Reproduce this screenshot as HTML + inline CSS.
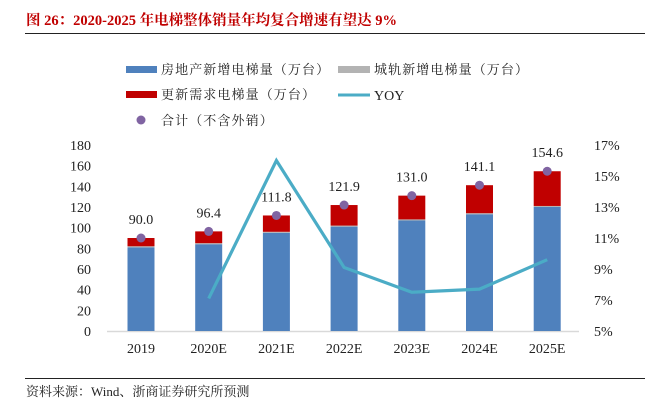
<!DOCTYPE html>
<html><head><meta charset="utf-8"><style>
body{margin:0;background:#fff;}
svg text{font-family:"Liberation Serif","Noto Serif CJK SC",serif;}
</style></head><body>
<svg width="658" height="402" xmlns="http://www.w3.org/2000/svg">
<text x="26" y="25" font-size="14.5" font-weight="bold" fill="#c00000">图 26：2020-2025 年电梯整体销量年均复合增速有望达 9%</text>
<line x1="25" y1="33.5" x2="645" y2="33.5" stroke="#222" stroke-width="1"/>
<g font-size="13" fill="#222" letter-spacing="1.1">
<rect x="126" y="66" width="31" height="7" fill="#4f81bd"/>
<text x="161" y="74">房地产新增电梯量（万台）</text>
<rect x="338" y="66" width="32" height="7" fill="#b3b3b3"/>
<text x="374" y="74">城轨新增电梯量（万台）</text>
<rect x="126" y="91" width="31" height="7" fill="#c00000"/>
<text x="161" y="99">更新需求电梯量（万台）</text>
<line x1="338" y1="95" x2="370" y2="95" stroke="#4bacc6" stroke-width="3"/>
<text x="374" y="100" font-size="14" letter-spacing="0">YOY</text>
<circle cx="141" cy="120" r="4.5" fill="#8064a2"/>
<text x="161" y="125">合计（不含外销）</text>
</g>
<g id="plot"></g>
<line x1="25" y1="378.5" x2="645" y2="378.5" stroke="#222" stroke-width="1"/>
<text x="26" y="396" font-size="13" fill="#222">资料来源：Wind、浙商证券研究所预测</text>
</svg>
<script>
const categories=["2019","2020E","2021E","2022E","2023E","2024E","2025E"];
const propertyVals=[81,84,95,101,107,113,120];
const railVals=[1,1,1,1,1,1,1];
const totalVals=[90.0,96.4,111.8,121.9,131.0,141.1,154.6];
const yoyVals=[null,7.1,16.0,9.1,7.5,7.7,9.6];
const leftTicks=[0,20,40,60,80,100,120,140,160,180];
const rightTicks=[5,7,9,11,13,15,17];
const NS="http://www.w3.org/2000/svg";
const g=document.getElementById('plot');
const y0=331,yTop=145;
const yL=v=>y0-(v/180)*(y0-yTop);
const yR=v=>y0-((v-5)/12)*(y0-yTop);
const xC=i=>141+i*67.7;
const bw=27;
function mk(t,a){const e=document.createElementNS(NS,t);for(const k in a)e.setAttribute(k,a[k]);g.appendChild(e);return e;}
let e;
e=mk('line',{x1:107,x2:579,y1:y0+0.5,y2:y0+0.5,stroke:'#d9d9d9','stroke-width':1.5});


leftTicks.forEach(v=>{e=mk('text',{x:91,y:yL(v)+5,'font-size':14,'text-anchor':'end',fill:'#222'});e.textContent=v;

});
rightTicks.forEach(v=>{e=mk('text',{x:594,y:yR(v)+5,'font-size':14,fill:'#222'});e.textContent=v+'%';

});
categories.forEach((c,i)=>{
const x=xC(i)-bw/2;
const p=propertyVals[i],r=railVals[i],t=totalVals[i];
e=mk('rect',{x:x,y:yL(p),width:bw,height:yL(0)-yL(p),fill:'#4f81bd'});


e=mk('rect',{x:x,y:yL(p+r),width:bw,height:yL(p)-yL(p+r),fill:'#b3b3b3'});


e=mk('rect',{x:x,y:yL(t),width:bw,height:yL(p+r)-yL(t),fill:'#c00000'});


e=mk('text',{x:xC(i),y:353,'font-size':14,'text-anchor':'middle',fill:'#222'});e.textContent=c;


});
const pts=[];yoyVals.forEach((v,i)=>{if(v!=null)pts.push(xC(i)+','+yR(v));});
e=mk('polyline',{points:pts.join(' '),fill:'none',stroke:'#4bacc6','stroke-width':3.2,'stroke-linejoin':'miter'});


categories.forEach((c,i)=>{
const t=totalVals[i];
e=mk('circle',{cx:xC(i),cy:yL(t),r:4.5,fill:'#8064a2'});


e=mk('text',{x:xC(i),y:yL(t)-14,'font-size':14,'text-anchor':'middle',fill:'#222'});e.textContent=t.toFixed(1);


});
</script>
</body></html>
